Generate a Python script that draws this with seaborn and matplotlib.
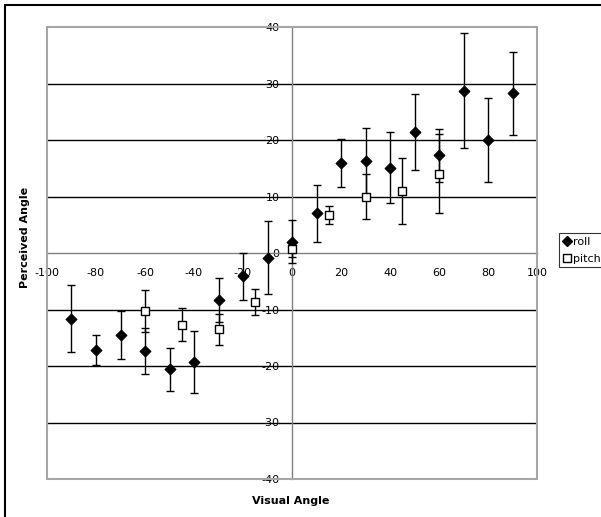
import pandas as pd
import matplotlib
matplotlib.use("Agg")
import matplotlib.pyplot as plt
from matplotlib.patches import Rectangle
from matplotlib.lines import Line2D
import seaborn as sns

sns.set_style("white")
plt.rcParams["font.family"] = ["DejaVu Sans"]
plt.rcParams["axes.unicode_minus"] = False
plt.rcParams["text.color"] = "black"

# roll series
roll_angle = [-90, -80, -70, -60, -50, -40, -30, -20, -10, 0, 10, 20, 30, 40, 50, 60, 70, 80, 90]
roll_mean = [-11.6, -17.2, -14.5, -17.3, -20.6, -19.3, -8.3, -4.1, -0.8, 2.0, 7.0, 15.9, 16.2,
             15.1, 21.4, 17.3, 28.7, 20.0, 28.3]
roll_err = [6.0, 2.6, 4.2, 4.1, 3.8, 5.5, 3.9, 4.15, 6.4, 3.8, 5.1, 4.25, 6.0,
            6.25, 6.75, 4.7, 10.2, 7.45, 7.35]

# pitch series
pitch_angle = [-60, -45, -30, -15, 0, 15, 30, 45, 60]
pitch_mean = [-10.3, -12.7, -13.5, -8.7, 0.7, 6.8, 10.0, 11.0, 14.0]
pitch_err = [3.75, 2.9, 2.7, 2.3, 1.4, 1.6, 3.9, 5.8, 7.0]

y_ticks = [-40, -30, -20, -10, 0, 10, 20, 30, 40]
x_ticks = [-100, -80, -60, -40, -20, 0, 20, 40, 60, 80, 100]

roll = pd.DataFrame({"angle": roll_angle, "perceived": roll_mean, "err": roll_err})
pitch = pd.DataFrame({"angle": pitch_angle, "perceived": pitch_mean, "err": pitch_err})

fig = plt.figure(figsize=(6.01, 5.17), dpi=100)
ax = fig.add_axes([47 / 601, 1 - 479 / 517, 490 / 601, 452 / 517])

ax.errorbar(roll["angle"], roll["perceived"], yerr=roll["err"], fmt="none",
            ecolor="black", elinewidth=1, capsize=3, capthick=1, zorder=3)
ax.errorbar(pitch["angle"], pitch["perceived"], yerr=pitch["err"], fmt="none",
            ecolor="black", elinewidth=1, capsize=3, capthick=1, zorder=3)
sns.scatterplot(data=roll, x="angle", y="perceived", marker="D", s=30, color="black",
                edgecolor="black", linewidth=0.8, ax=ax, zorder=4)
sns.scatterplot(data=pitch, x="angle", y="perceived", marker="s", s=40, color="white",
                edgecolor="black", linewidth=1, ax=ax, zorder=5)

ax.set_xlim(-100, 100)
ax.set_ylim(-40, 40)
ax.set_xticks(x_ticks)
ax.set_yticks(y_ticks)
ax.set_xlabel("")
ax.set_ylabel("")

for y in y_ticks[1:-1]:
    if y != 0:
        ax.axhline(y, color="black", lw=1, zorder=1)

for side in ["top", "right"]:
    ax.spines[side].set_visible(False)
ax.spines["left"].set_position(("data", 0))
ax.spines["bottom"].set_position(("data", 0))
for side in ["left", "bottom"]:
    ax.spines[side].set_color("#808080")
    ax.spines[side].set_linewidth(1)
    ax.spines[side].set_zorder(2)

ax.tick_params(axis="both", direction="out", length=3, width=1, color="#808080",
               labelsize=8, labelcolor="black")
ax.tick_params(axis="x", pad=8)
ax.tick_params(axis="y", pad=6)

ax.add_patch(Rectangle((0, 0), 1, 1, transform=ax.transAxes, fill=False,
                       edgecolor="#a6a6a6", lw=1.5, zorder=6, clip_on=False))

fig.text(25 / 601, 1 - 237 / 517, "Perceived Angle", rotation=90, ha="center", va="center",
         fontsize=8, fontweight="bold", color="black")
fig.text(291 / 601, 1 - 501 / 517, "Visual Angle", ha="center", va="center",
         fontsize=8, fontweight="bold", color="black")

# outer chart frame (cut off at right and bottom)
fig.add_artist(Line2D([5 / 601, 1.0], [1 - 5 / 517] * 2, transform=fig.transFigure,
                      color="black", lw=1.5))
fig.add_artist(Line2D([5 / 601] * 2, [0.0, 1 - 5 / 517], transform=fig.transFigure,
                      color="black", lw=1.5))

handles = [Line2D([], [], marker="D", color="black", ls="none", markersize=5),
           Line2D([], [], marker="s", markerfacecolor="white", markeredgecolor="black",
                  ls="none", markersize=6)]
leg = fig.legend(handles, ["roll", "pitch"], loc="upper left",
                 bbox_to_anchor=(559 / 601, 1 - 233 / 517), fontsize=8, frameon=True,
                 fancybox=False, edgecolor="black", handlelength=0.7, handletextpad=0.2,
                 borderpad=0.35, labelspacing=0.6, borderaxespad=0)
leg.get_frame().set_linewidth(0.8)

fig.savefig("out.png", dpi=100)
